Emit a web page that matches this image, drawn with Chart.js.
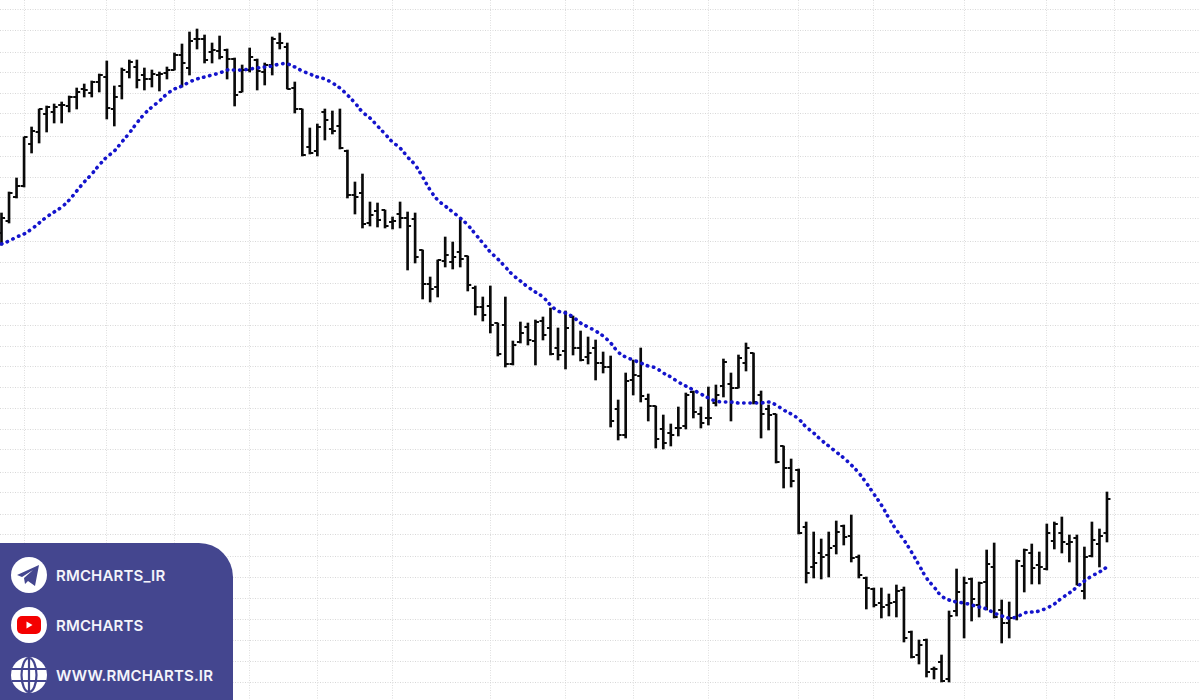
<!DOCTYPE html>
<html>
<head>
<meta charset="utf-8">
<script src="https://cdn.jsdelivr.net/npm/chart.js@4/dist/chart.umd.min.js"></script>
<style>
    html, body { margin: 0; padding: 0; background: #fff; overflow: hidden; }
    #wrap { position: relative; width: 1200px; height: 700px; }
    canvas { display: block; }
    #panel {
        position: absolute; left: 0; top: 543px; width: 233px; height: 157px;
        background: #44468f; border-top-right-radius: 34px;
    }
    .row { position: absolute; left: 11px; height: 36px; display: flex; align-items: center; }
    .row svg { width: 36px; height: 36px; flex: none; }
    .row span {
        margin-left: 9px; color: #f4f4fb; white-space: nowrap;
        font: 600 15px Inter, sans-serif; letter-spacing: 0.15px;
    }
</style>
</head>
<body>
<div id="wrap">
    <canvas id="chart" width="1200" height="700"></canvas>
    <div id="panel">
        <div class="row" style="top:14px">
            <svg viewBox="0 0 36 36"><circle cx="18" cy="18" r="18" fill="#fff"/><path d="M6 18 L28 8 L24 29 L17 24 L14 27 L13 21 L22 13 L11 20 Z" fill="#44468f"/></svg>
            <span>RMCHARTS_IR</span>
        </div>
        <div class="row" style="top:64px">
            <svg viewBox="0 0 36 36"><circle cx="18" cy="18" r="18" fill="#fff"/><rect x="6" y="9" width="24" height="18" rx="5" fill="#f40000"/><path d="M15.5 14.5 L21.5 18 L15.5 21.5 Z" fill="#fff"/></svg>
            <span>RMCHARTS</span>
        </div>
        <div class="row" style="top:114px">
            <svg viewBox="0 0 36 36"><circle cx="18" cy="18" r="18" fill="#fff"/><g fill="none" stroke="#44468f" stroke-width="2.2"><ellipse cx="18" cy="18" rx="7.5" ry="17"/><path d="M1 12 H35 M1 24 H35 M18 1 V35"/></g></svg>
            <span>WWW.RMCHARTS.IR</span>
        </div>
    </div>
</div>
<script>
// prices are read off the picture, in arbitrary units (no axis labels on the chart)
const highs = [487,508,522,563,573,591,594,596,598,604,612,616,619,626,639,614,632,640,640,632,630,628,633,647,656,668,671,665,657,664,651,642,635,652,641,637,663,667,657,618,
    591,572,576,591,589,591,550,518,526,498,497,490,483,498,488,487,450,423,440,463,458,481,444,414,403,414,377,403,359,378,377,380,383,392,372,389,
    384,369,363,360,348,344,300,327,340,352,306,294,285,276,293,307,309,293,313,315,341,327,345,357,347,309,295,286,254,241,231,178,168,161,168,179,175,185,145,
    123,112,112,106,115,113,69,60,61,33,45,89,131,123,122,118,150,157,100,98,140,151,156,148,176,178,183,165,165,153,178,171,208];
const lows = [455,477,502,513,547,557,568,577,577,588,591,603,603,608,581,574,601,622,612,610,613,609,621,630,613,625,651,637,637,641,621,594,608,628,610,615,625,651,611,587,
    544,546,544,560,566,551,502,486,472,474,473,472,471,472,430,437,401,398,403,433,431,433,409,385,379,367,344,333,335,357,355,335,360,345,340,331,
    345,339,336,320,327,273,260,262,305,298,279,252,251,254,264,271,282,272,275,294,303,279,312,329,296,262,270,237,212,213,166,117,122,121,123,146,155,138,122,
    91,93,82,84,83,58,42,36,23,21,18,18,84,62,79,83,90,82,57,62,80,108,116,116,130,151,147,138,115,101,143,133,158];
const opens = [467,479,503,514,556,568,586,588,595,594,603,611,607,618,623,591,614,628,633,625,621,625,627,630,645,632,661,661,648,649,650,641,608,630,640,628,635,657,653,612,
    591,553,549,588,571,574,549,505,507,477,489,490,478,486,482,481,450,416,413,439,438,448,444,412,393,394,377,375,336,358,373,359,379,372,352,349,
    383,352,343,352,337,333,291,265,320,324,301,294,271,267,272,274,308,286,282,297,314,316,312,337,347,305,291,286,254,232,230,173,133,147,145,154,174,164,143,
    122,111,97,95,98,110,68,45,60,31,38,21,89,97,121,95,118,133,90,77,83,134,147,135,131,159,167,156,162,109,144,156,167];
const closes = [482,507,514,563,569,591,593,593,595,603,608,610,618,625,592,603,630,638,620,621,626,626,630,645,637,659,661,640,650,643,641,605,630,643,629,635,661,657,611,591,
    545,547,573,580,569,552,505,503,476,485,480,474,479,482,474,443,416,411,440,445,443,441,415,393,385,375,346,336,355,367,360,378,365,346,345,372,
    352,340,347,337,333,279,265,319,325,304,294,261,257,265,272,305,288,277,282,305,338,312,342,352,298,286,285,238,232,219,167,127,137,143,152,168,163,142,125,
    112,95,93,97,109,62,43,55,28,31,19,84,108,117,101,117,136,83,77,82,139,150,132,133,167,176,158,158,115,143,160,164,201];
const movingAvg = [456,459,463,466,471,477,483,488,493,500,509,518,526,535,543,549,558,567,577,586,593,599,606,611,614,618,621,623,625,627,630,630,630,631,632,633,634,636,636,633,
    629,626,623,621,617,612,605,597,588,582,574,566,558,552,543,535,523,510,500,494,488,482,475,466,457,448,441,433,425,419,413,408,403,395,389,387,
    383,377,373,369,364,357,348,343,340,337,334,332,327,323,318,314,310,306,302,299,298,298,297,297,297,297,298,295,290,286,281,273,267,260,254,248,242,235,227,
    217,206,195,182,170,160,148,135,122,113,104,100,98,97,95,93,91,87,84,82,83,87,88,89,92,96,102,107,113,119,124,128,133];

// bar numbers where the vertical grid lines sit, and grid prices
const gridBars = [3,14,23,33,42,52,65,75,84,94,106,116,128,139,148];
const gridPrices = [690,669,648,628,606,586,564,544,523,502,481,459,438,417,397,375,354,333,313,292,271,250,228,208,186,166,144,123,102,81,60,39,18];

const INK  = "#0a0a0a";
const BLUE = "#1414cc";

const _xy = (arr) => arr.map((v, i) => ({ x: i, y: v }));

new Chart(document.getElementById("chart").getContext("2d"), {
    data: {
        datasets: [
            {
                type           : "line",
                label          : "MA",
                data           : _xy(movingAvg),
                borderColor    : BLUE,
                borderWidth    : 3.6,
                borderDash     : [0.4, 5.8],
                borderCapStyle : "round",
                tension        : 0.4,
                pointRadius    : 0,
                fill           : false,
                order          : 0
            },
            {
                type           : "bar",
                label          : "High-Low",
                data           : highs.map((h, i) => ({ x: i, y: [lows[i], h] })),
                backgroundColor: INK,
                barThickness   : 2,
                order          : 1
            },
            {
                type       : "scatter",
                label      : "Open",
                data       : _xy(opens),
                pointStyle : "dash",
                rotation   : 180,
                pointRadius: 3.5,
                borderColor: INK,
                borderWidth: 2,
                order      : 1
            },
            {
                type       : "scatter",
                label      : "Close",
                data       : _xy(closes),
                pointStyle : "dash",
                pointRadius: 3.5,
                borderColor: INK,
                borderWidth: 2,
                order      : 1
            }
        ]
    },
    options: {
        responsive: false,
        animation : false,
        layout    : { padding: 0, autoPadding: false },
        plugins   : { legend: { display: false }, tooltip: { enabled: false } },
        scales: {
            x: {
                type  : "linear",
                offset: false,
                min   : -0.2,
                max   : 159.37,
                afterBuildTicks: (axis) => { axis.ticks = gridBars.map(v => ({ value: v })); },
                ticks : { display: false },
                grid  : { color: "#dedede", lineWidth: 1, offset: false, drawTicks: false },
                border: { display: false, dash: [1, 1.5] }
            },
            y: {
                type  : "linear",
                min   : 0,
                max   : 700,
                afterBuildTicks: (axis) => { axis.ticks = gridPrices.map(v => ({ value: v })); },
                ticks : { display: false },
                grid  : { color: "#d8d8d8", lineWidth: 1, drawTicks: false },
                border: { display: false, dash: [1, 1.5] }
            }
        }
    }
});
</script>
</body>
</html>
